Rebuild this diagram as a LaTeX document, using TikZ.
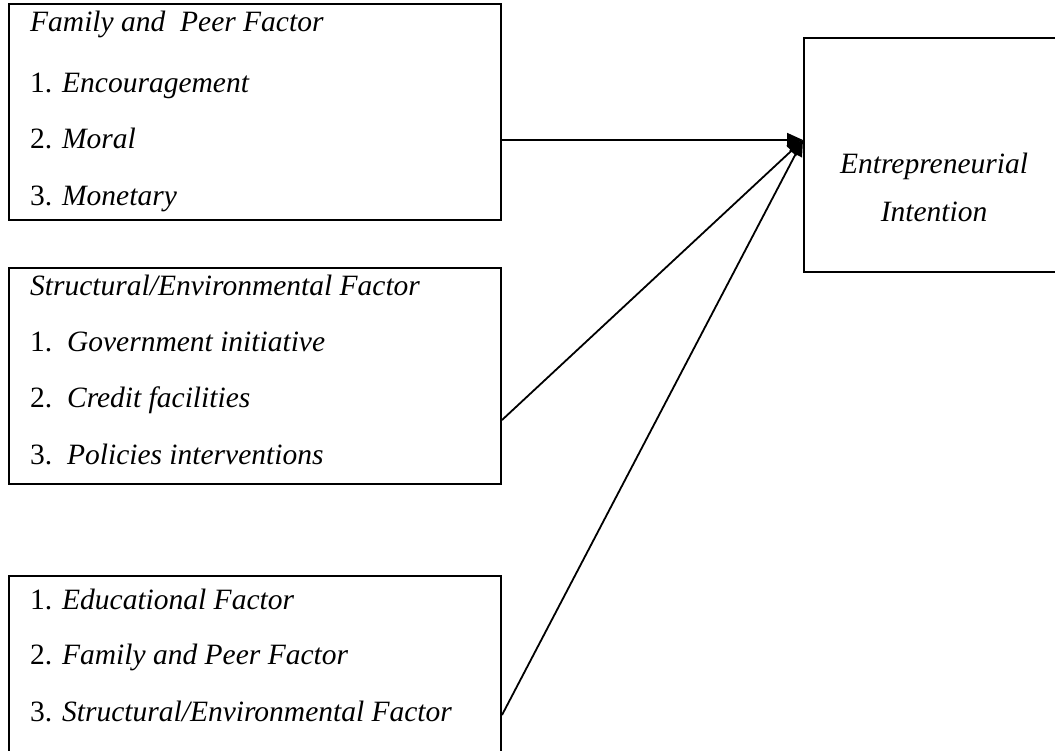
\documentclass[tikz,border=0pt]{standalone}
\usepackage{fontspec}
\setmainfont{Liberation Serif}
\usetikzlibrary{arrows.meta}
\begin{document}
\begin{tikzpicture}[x=1pt,y=-1pt,
  box/.style={draw,line width=2pt,inner sep=0pt,anchor=north west},
  lbl/.style={anchor=base west,inner sep=0pt,font=\fontsize{29.5}{34}\selectfont},
  clbl/.style={anchor=base,inner sep=0pt,font=\fontsize{29.5}{34}\selectfont\itshape},
  conn/.style={line width=1.8pt,-{Triangle[length=16pt,width=14pt]}}]
\useasboundingbox (0,0) rectangle (1055,750);
\node[box,minimum width=492pt,minimum height=216pt] (f) at (8,3) {};
\node[box,minimum width=492pt,minimum height=216pt] (s) at (8,267) {};
\node[box,minimum width=492pt,minimum height=190pt] (e) at (8,575) {};
\node[box,minimum width=270pt,minimum height=234pt] (ei) at (803,37) {};
% texts
\node[lbl] (f0) at (30,31) {\textit{Family and\ \ Peer Factor}};
\node[lbl] (f1) at (30,92) {1. \textit{Encouragement}};
\node[lbl] (f2) at (30,148) {2. \textit{Moral}};
\node[lbl] (f3) at (30,205) {3. \textit{Monetary}};
\node[lbl] (s0) at (30,295) {\textit{Structural/Environmental Factor}};
\node[lbl] (s1) at (30,351) {1.\ \ \textit{Government initiative}};
\node[lbl] (s2) at (30,407) {2.\ \ \textit{Credit facilities}};
\node[lbl] (s3) at (30,464) {3.\ \ \textit{Policies interventions}};
\node[lbl] (e1) at (30,609) {1. \textit{Educational Factor}};
\node[lbl] (e2) at (30,664) {2. \textit{Family and Peer Factor}};
\node[lbl] (e3) at (30,721) {3. \textit{Structural/Environmental Factor}};
\node[clbl] (t1) at (934,173) {Entrepreneurial};
\node[clbl] (t2) at (934,221) {Intention};
% connectors
\coordinate (tip) at (803,140);
\draw[conn] ([yshift=-137pt]f.north east) -- (tip);
\draw[conn] ([yshift=-153pt]s.north east) -- (tip);
\draw[conn] ([yshift=-140pt]e.north east) -- (tip);
\end{tikzpicture}
\end{document}
